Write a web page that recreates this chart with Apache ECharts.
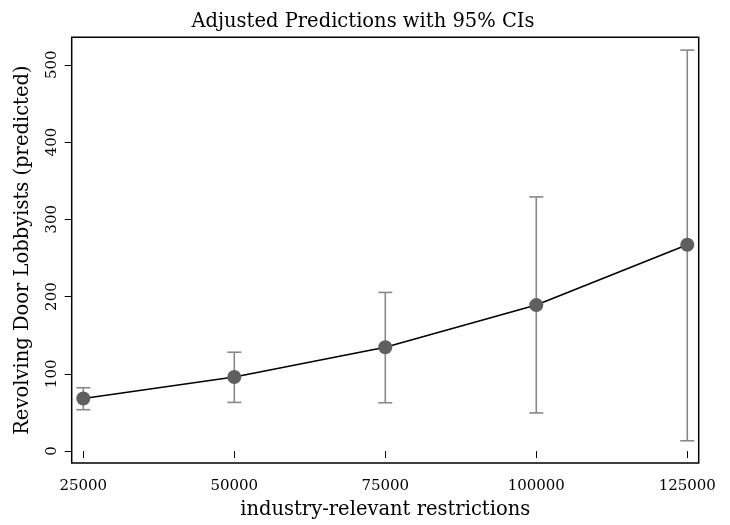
<!DOCTYPE html>
<html>
<head>
<meta charset="utf-8">
<script src="https://cdn.jsdelivr.net/npm/echarts@6/dist/echarts.min.js"></script>
<style>html,body{margin:0;padding:0;background:#fff}#c{width:730px;height:525px}</style>
</head>
<body>
<div id="c"></div>
<script>
var restrictions = [25000, 50000, 75000, 100000, 125000];
var predicted = [68, 96, 134.5, 189, 267];
var ciLow = [53.6, 63, 62.6, 49.4, 13.4];
var ciHigh = [82, 128, 205.4, 329, 519];
var xTicks = [25000, 50000, 75000, 100000, 125000];
var yTicks = [0, 100, 200, 300, 400, 500];

var font = 'DejaVu Serif';
var chart = echarts.init(document.getElementById('c'));
var lineData = restrictions.map(function (x, i) { return [x, predicted[i]]; });
var ciData = restrictions.map(function (x, i) { return [x, ciLow[i], ciHigh[i]]; });

chart.setOption({
  animation: false,
  backgroundColor: '#fff',
  title: {
    text: 'Adjusted Predictions with 95% CIs',
    left: 358,
    textAlign: 'center',
    top: 7,
    textStyle: { fontFamily: font, fontSize: 19.5, fontWeight: 'normal', color: '#000' }
  },
  grid: {
    left: 71.7, right: 31.3, top: 37.3, bottom: 59.3,
    show: true, borderColor: '#000', borderWidth: 1.5, backgroundColor: '#fff'
  },
  xAxis: {
    type: 'value', min: 23080, max: 126890,
    name: 'industry-relevant restrictions',
    nameLocation: 'middle', nameGap: 37,
    nameTextStyle: { fontFamily: font, fontSize: 19.5, color: '#000' },
    axisLine: { show: false },
    splitLine: { show: false },
    axisTick: { show: true, length: 7, customValues: xTicks, lineStyle: { color: '#000', width: 1 } },
    axisLabel: {
      customValues: xTicks, fontFamily: font, fontSize: 15, color: '#000', margin: 16,
      formatter: function (v) { return String(v); }
    }
  },
  yAxis: {
    type: 'value', min: -15.4, max: 535.6,
    name: 'Revolving Door Lobbyists (predicted)',
    nameLocation: 'middle', nameGap: 39,
    nameTextStyle: { fontFamily: font, fontSize: 19.5, color: '#000' },
    axisLine: { show: false },
    splitLine: { show: false },
    axisTick: { show: true, length: 7, customValues: yTicks, lineStyle: { color: '#000', width: 1 } },
    axisLabel: {
      customValues: yTicks, rotate: 90, fontFamily: font, fontSize: 15, color: '#000', margin: 12,
      formatter: function (v) { return String(v); }
    }
  },
  series: [
    {
      type: 'custom',
      data: ciData,
      z: 2,
      renderItem: function (params, api) {
        var x = api.value(0);
        var lo = api.coord([x, api.value(1)]);
        var hi = api.coord([x, api.value(2)]);
        var hw = 7;
        var st = { stroke: '#888888', lineWidth: 1.6, fill: null };
        return {
          type: 'group',
          children: [
            { type: 'line', shape: { x1: lo[0], y1: lo[1], x2: hi[0], y2: hi[1] }, style: st },
            { type: 'line', shape: { x1: lo[0] - hw, y1: lo[1], x2: lo[0] + hw, y2: lo[1] }, style: st },
            { type: 'line', shape: { x1: hi[0] - hw, y1: hi[1], x2: hi[0] + hw, y2: hi[1] }, style: st }
          ]
        };
      }
    },
    {
      type: 'line',
      data: lineData,
      z: 3,
      symbol: 'circle',
      symbolSize: 14,
      lineStyle: { color: '#000', width: 1.6 },
      itemStyle: { color: '#5f5f5f', borderWidth: 0 }
    }
  ]
});
</script>
</body>
</html>
